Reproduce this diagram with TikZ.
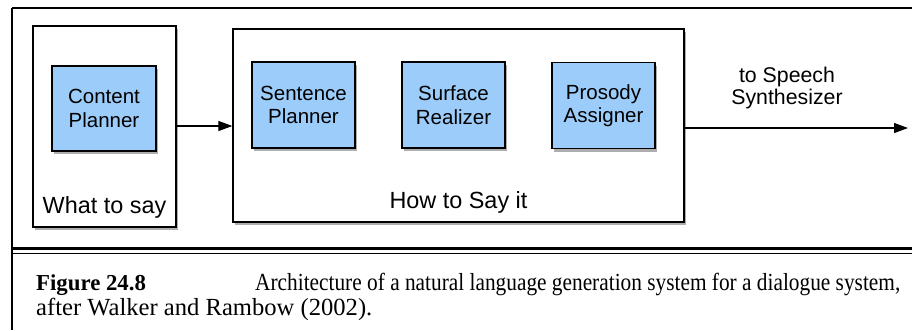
\documentclass[tikz,border=0pt]{standalone}
\usepackage{fontspec}
\usepackage{graphicx}
\setmainfont{Liberation Serif}
\setsansfont{Liberation Sans}
\usetikzlibrary{arrows.meta,shadows}
\definecolor{boxblue}{RGB}{156,204,250}
\tikzset{
  shad/.style={drop shadow={shadow xshift=2pt,shadow yshift=-3pt,opacity=0.45,fill=black!70}},
  stage/.style={draw=black,line width=1.3pt,fill=white,shad,rectangle,inner sep=0pt},
  module/.style={draw=black,line width=1.3pt,fill=boxblue,shad,rectangle,inner sep=0pt,
    minimum width=103pt,minimum height=86pt,align=center,
    font=\sffamily\fontsize{20.5}{23.5}\selectfont},
  lbl/.style={font=\sffamily\fontsize{23.4}{26}\selectfont,inner sep=0pt},
  conn/.style={line width=1.2pt,-{Triangle[length=14pt,width=10pt]}},
  captext/.style={font=\fontsize{24.6}{25}\selectfont,inner sep=0pt,anchor=base west}
}
\begin{document}
\begin{tikzpicture}[x=1pt,y=-1pt]
\useasboundingbox (0,0) rectangle (912,330);
% frame
\draw[line width=2pt] (12,8) -- (912,8);
\draw[line width=2pt] (12,8) -- (12,330);
\draw[line width=3pt] (12,248.3) -- (912,248.3);
\draw[line width=1.6pt] (12,253.5) -- (912,253.5);
% stages
\node[stage,minimum width=143pt,minimum height=201pt] (what) at (104.5,126.5) {};
\node[stage,minimum width=451pt,minimum height=193pt] (how) at (458.5,125.5) {};
% modules
\node[module,minimum width=104pt,minimum height=85pt] (cp) at (104,108.5) {Content\\Planner};
\node[module] (sp) at (303.5,105) {Sentence\\Planner};
\node[module] (sr) at (453.5,105) {Surface\\Realizer};
\node[module] (pa) at (603.5,105.5) {Prosody\\Assigner};
% labels
\node[lbl,anchor=base] (whatl) at (104.5,213) {What to say};
\node[lbl,anchor=base] (howl) at (458.5,208) {How to Say it};
\node[lbl,align=center,font=\sffamily\fontsize{21.3}{22.5}\selectfont] (tosp) at (787,88) {to Speech\\Synthesizer};
% connectors
\coordinate (out) at (908,128);
\draw[conn] (what.east |- 0,126) -- (how.west |- 0,126);
\draw[conn] (how.east |- out) -- (out);
% caption
\node[captext,font=\bfseries\fontsize{22.8}{25}\selectfont] (fig) at (36,290) {Figure 24.8};
\node[captext] (cap1) at (255,290) {\resizebox{645pt}{\height}{Architecture of a natural language generation system for a dialogue system,}};
\node[captext] (cap2) at (36,315) {after Walker and Rambow (2002).};
\end{tikzpicture}
\end{document}
